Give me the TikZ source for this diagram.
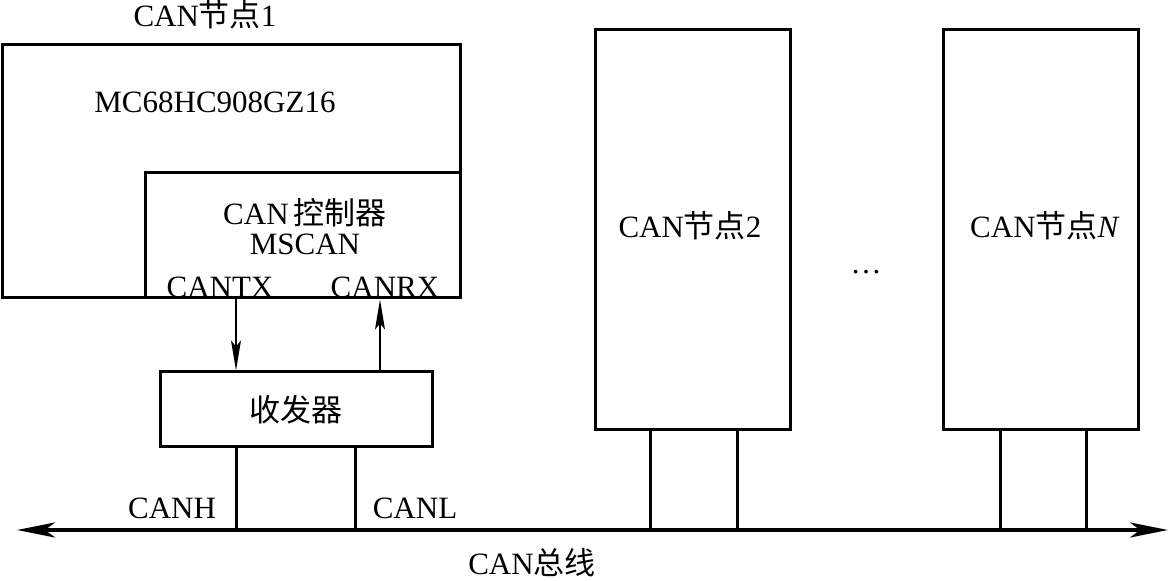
\documentclass[tikz,border=0pt]{standalone}
\usepackage{fontspec}
\setmainfont{Liberation Serif}
\newfontfamily\cjk{Noto Sans CJK SC}
\newcommand{\zh}[1]{{\cjk #1}}
\usetikzlibrary{positioning,arrows.meta,fit}

\begin{document}
\begin{tikzpicture}[
    x=0.5pt, y=-0.5pt,
    every node/.style={font=\fontsize{15.5}{18}\selectfont},
    box/.style={draw, line width=1.5pt, inner sep=0pt},
    wire/.style={line width=1.5pt},
    sigarrow/.style={-{Stealth[length=15pt, width=5pt, inset=3pt]}, line width=0.8pt},
    busarrow/.style={{Stealth[length=19pt, width=7.5pt, inset=5pt]}-{Stealth[length=19pt, width=7.5pt, inset=5pt]}, line width=1.6pt},
]
\useasboundingbox (0,0) rectangle (1171,581);

% ---- Node 1: MCU, controller, transceiver ----
\node[box, fit={(2,45) (460,298)}] (mcu) {};
\node[box, fit={(145,173) (460,298)}] (ctrl) {};
\node[box, fit={(160,372) (432,447)}] (xcvr) {};

\node (n1name) at (205,15) {CAN\zh{节点}1};
\node (mcuname) at (215,102) {MC68HC908GZ16};
\node (ctrlname) at (305,213) {CAN\,\zh{控制器}};
\node (mscan) at (305,244) {MSCAN};
\node (cantx) at (220,287) {CANTX};
\node (canrx) at (385,287) {CANRX};
\node (xcvrname) at (296,410) {\zh{收发器}};

% TX / RX signals
\coordinate (tx) at (236,0);
\coordinate (rx) at (380,0);
\draw[sigarrow] (tx |- ctrl.south) -- (tx |- xcvr.north);
\draw[sigarrow] (rx |- xcvr.north) -- (rx |- ctrl.south);

% ---- Other nodes ----
\node[box, fit={(595,30) (790,430)}] (node2) {};
\node[box, fit={(943,30) (1138,430)}] (nodeN) {};
\node (node2name) at (690,226) {CAN\zh{节点}2};
\node (nodeNname) at (1045,226) {CAN\zh{节点}\textit{N}};
\node (dots) at (866,272) {\dots};

% ---- Bus ----
\coordinate (busL) at (17,530);
\coordinate (busR) at (1168,530);
\draw[busarrow] (busL) -- (busR);

\foreach \x/\n in {236/canh, 355/canl, 650/a2, 737/b2, 1000/aN, 1086/bN}
    \coordinate (\n) at (\x,530);
\draw[wire] (canh |- xcvr.south) -- (canh);
\draw[wire] (canl |- xcvr.south) -- (canl);
\draw[wire] (a2 |- node2.south) -- (a2);
\draw[wire] (b2 |- node2.south) -- (b2);
\draw[wire] (aN |- nodeN.south) -- (aN);
\draw[wire] (bN |- nodeN.south) -- (bN);

\node (canhname) at (172,508) {CANH};
\node (canlname) at (415,508) {CANL};
\node (busname) at (532,563) {CAN\zh{总线}};

\end{tikzpicture}
\end{document}
